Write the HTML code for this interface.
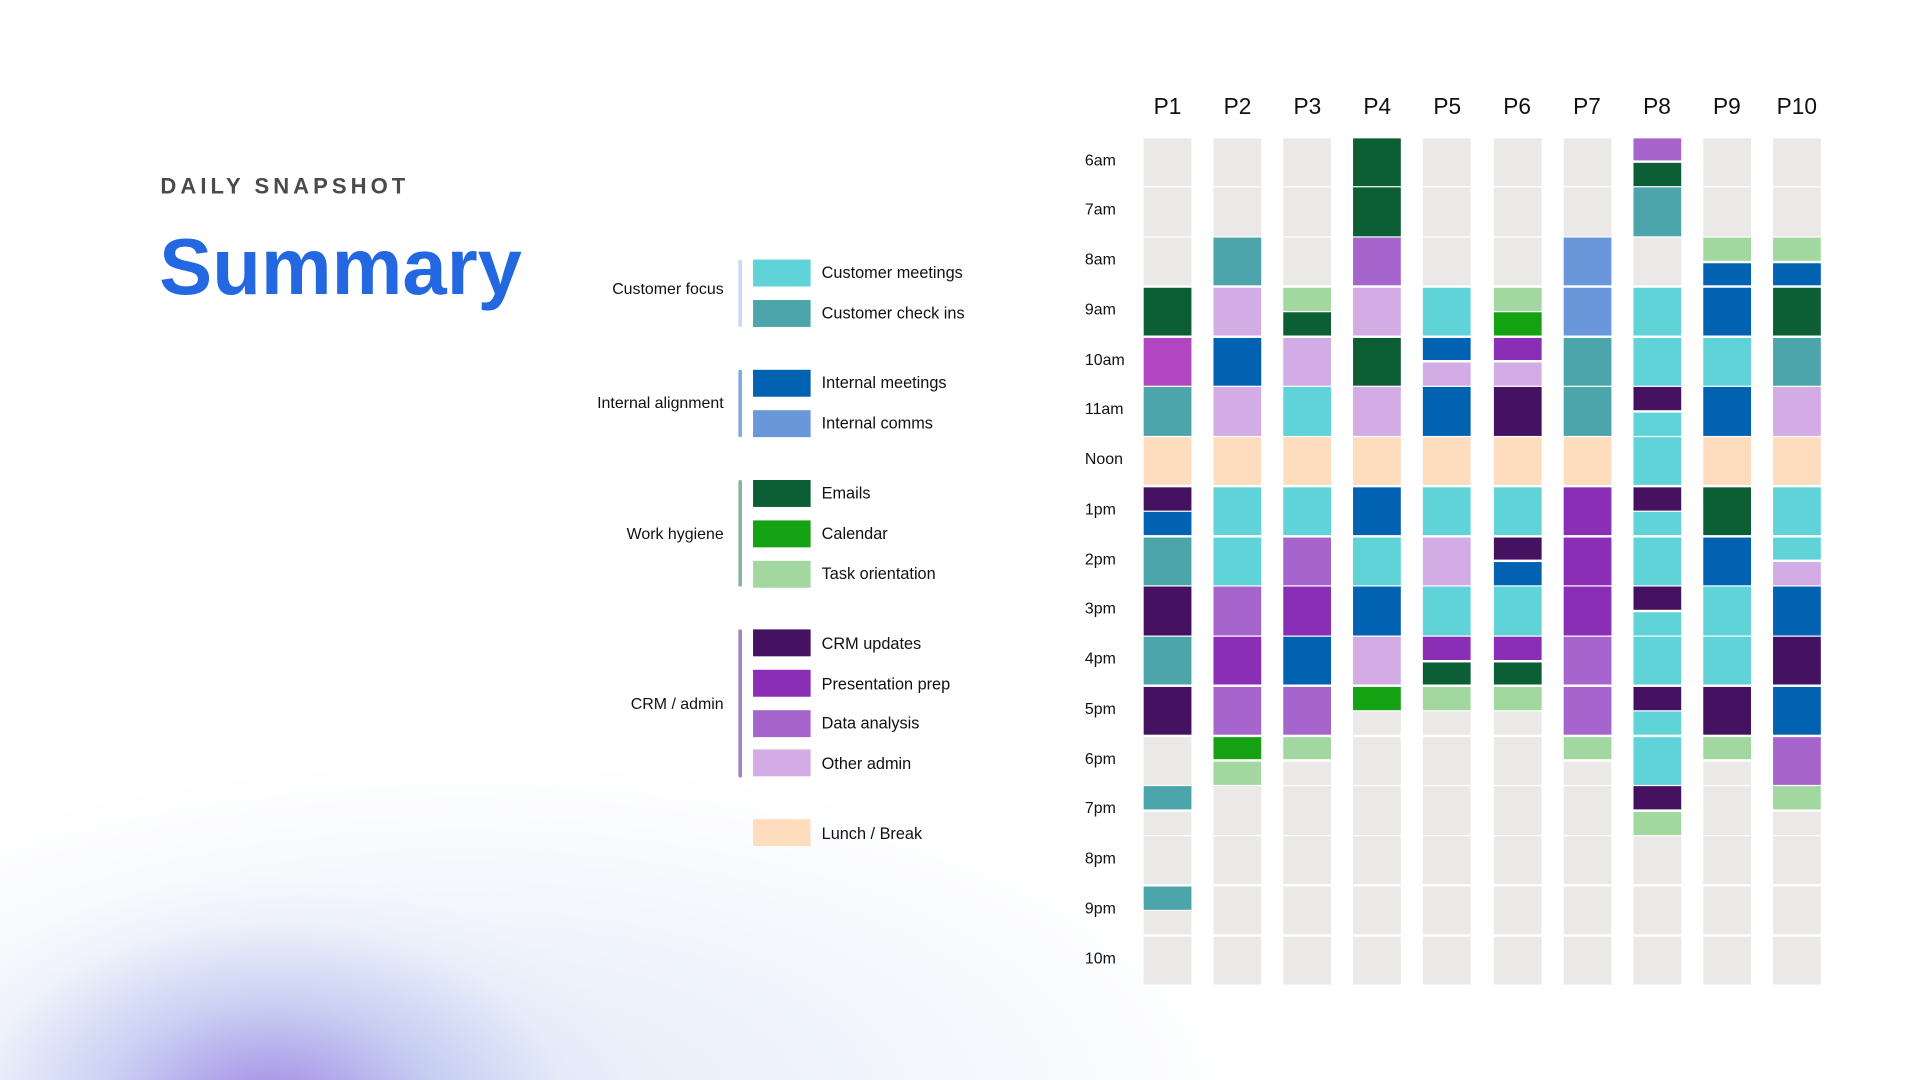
<!DOCTYPE html>
<html><head><meta charset="utf-8"><style>
html,body{margin:0;padding:0;width:1920px;height:1080px;overflow:hidden;background:#fff;}
#stage{position:absolute;left:0;top:0;width:1568px;height:882px;transform:scale(1.22449);transform-origin:0 0;font-family:"Liberation Sans",sans-serif;color:#111;overflow:hidden;
background:radial-gradient(ellipse 300px 190px at 220px 905px,rgba(145,110,225,.8),rgba(165,175,235,.5) 45%,rgba(215,222,245,.2) 80%,rgba(255,255,255,0) 100%),radial-gradient(ellipse 650px 280px at 380px 900px,rgba(212,222,245,.65),rgba(255,255,255,0) 100%),#fff;}
.abs{position:absolute;}
.glabel{position:absolute;right:977px;font-size:13px;text-align:right;white-space:nowrap;}
.gbar{position:absolute;left:603px;width:3px;border-radius:2px;}
.sw{position:absolute;left:615px;width:47px;height:22px;}
.lt{position:absolute;left:671px;font-size:13.3px;white-space:nowrap;}
.hl{position:absolute;left:886px;font-size:13px;}
.ph{position:absolute;top:76px;width:39px;text-align:center;font-size:18.5px;}
.cell{position:absolute;}
</style></head><body>
<div id="stage">
<div class="abs" style="left:131px;top:142px;font-size:18px;font-weight:bold;letter-spacing:3.3px;color:#4a4a4a;">DAILY SNAPSHOT</div>
<div class="abs" style="left:130px;top:180px;font-size:65px;font-weight:bold;color:#2368E1;">Summary</div>

<div class="glabel" style="top:228px;">Customer focus</div>
<div class="gbar" style="top:212px;height:55px;background:#c9d9f5;"></div>
<div class="sw" style="top:212px;background:#5FD3D8;"></div>
<div class="lt" style="top:215px;">Customer meetings</div>
<div class="sw" style="top:245px;background:#4BA5AA;"></div>
<div class="lt" style="top:248px;">Customer check ins</div>

<div class="glabel" style="top:321px;">Internal alignment</div>
<div class="gbar" style="top:302px;height:55px;background:#82a9e2;"></div>
<div class="sw" style="top:302px;background:#0062B1;"></div>
<div class="lt" style="top:305px;">Internal meetings</div>
<div class="sw" style="top:335px;background:#6A97D9;"></div>
<div class="lt" style="top:338px;">Internal comms</div>

<div class="glabel" style="top:428px;">Work hygiene</div>
<div class="gbar" style="top:392px;height:87px;background:#88b49c;"></div>
<div class="sw" style="top:392px;background:#0C5E35;"></div>
<div class="lt" style="top:395px;">Emails</div>
<div class="sw" style="top:425px;background:#14A112;"></div>
<div class="lt" style="top:428px;">Calendar</div>
<div class="sw" style="top:458px;background:#A2D8A0;"></div>
<div class="lt" style="top:461px;">Task orientation</div>

<div class="glabel" style="top:567px;">CRM / admin</div>
<div class="gbar" style="top:514px;height:121px;background:#a283ba;"></div>
<div class="sw" style="top:514px;background:#451161;"></div>
<div class="lt" style="top:518px;">CRM updates</div>
<div class="sw" style="top:547px;background:#8A2EB5;"></div>
<div class="lt" style="top:551px;">Presentation prep</div>
<div class="sw" style="top:580px;background:#A665CC;"></div>
<div class="lt" style="top:583px;">Data analysis</div>
<div class="sw" style="top:612px;background:#D3ACE5;"></div>
<div class="lt" style="top:616px;">Other admin</div>

<div class="sw" style="top:669px;background:#FDDDBE;"></div>
<div class="lt" style="top:673px;">Lunch / Break</div>

<div id="grid"></div>
</div>
<script>
const participants = ["P1","P2","P3","P4","P5","P6","P7","P8","P9","P10"];
const hourLabels = ["6am","7am","8am","9am","10am","11am","Noon","1pm","2pm","3pm","4pm","5pm","6pm","7pm","8pm","9pm","10m"];
const categoryColors = {E:"#EAE9E8",CM:"#5FD3D8",CC:"#4BA5AA",IM:"#0062B1",IC:"#6A97D9",EM:"#0C5E35",CA:"#14A112",TO:"#A2D8A0",CRM:"#451161",PP:"#8A2EB5",PX:"#B046C0",DA:"#A665CC",OA:"#D3ACE5",L:"#FDDDBE"};
const p1 = ["E","E","E","EM","PX","CC","L",["CRM","IM"],"CC","CRM","CC","CRM","E",["CC","E"],"E",["CC","E"],"E"];
const p2 = ["E","E","CC","OA","IM","OA","L","CM","CM","DA","PP","DA",["CA","TO"],"E","E","E","E"];
const p3 = ["E","E","E",["TO","EM"],"OA","CM","L","CM","DA","PP","IM","DA",["TO","E"],"E","E","E","E"];
const p4 = ["EM","EM","DA","OA","EM","OA","L","IM","CM","IM","OA",["CA","E"],"E","E","E","E","E"];
const p5 = ["E","E","E","CM",["IM","OA"],"IM","L","CM","OA","CM",["PP","EM"],["TO","E"],"E","E","E","E","E"];
const p6 = ["E","E","E",["TO","CA"],["PP","OA"],"CRM","L","CM",["CRM","IM"],"CM",["PP","EM"],["TO","E"],"E","E","E","E","E"];
const p7 = ["E","E","IC","IC","CC","CC","L","PP","PP","PP","DA","DA",["TO","E"],"E","E","E","E"];
const p8 = [["DA","EM"],"CC","E","CM","CM",["CRM","CM"],"CM",["CRM","CM"],"CM",["CRM","CM"],"CM",["CRM","CM"],"CM",["CRM","TO"],"E","E","E"];
const p9 = ["E","E",["TO","IM"],"IM","CM","IM","L","EM","IM","CM","CM","CRM",["TO","E"],"E","E","E","E"];
const p10 = ["E","E",["TO","IM"],"EM","CC","OA","L","CM",["CM","OA"],"IM","CRM","IM","DA",["TO","E"],"E","E","E"];
const schedules = [p1,p2,p3,p4,p5,p6,p7,p8,p9,p10];

const X0=934, COLW=39, COLSTEP=57.1, Y0=112.7, ROWSTEP=40.75, GAP=1.6;
const xCol = i => X0 + i*COLSTEP;
const yRow = h => Y0 + h*ROWSTEP;
const grid = document.getElementById('grid');

participants.forEach((p,i)=>{
  const d=document.createElement('div');
  d.className='ph';
  d.style.left=xCol(i)+'px';
  d.textContent=p;
  
  
  grid.appendChild(d);
});
hourLabels.forEach((h,j)=>{
  const d=document.createElement('div');
  d.className='hl';
  d.style.top=(yRow(j)+10)+'px';
  d.textContent=h;
  
  
  grid.appendChild(d);
});
schedules.forEach((s,i)=>{
  s.forEach((v,j)=>{
    const parts = Array.isArray(v)?v:[v];
    const full = ROWSTEP-GAP;
    const h = parts.length===1?full:(full-GAP)/2;
    parts.forEach((c,k)=>{
      const d=document.createElement('div');
      d.className='cell';
      d.style.left=xCol(i)+'px';
      d.style.width=COLW+'px';
      d.style.top=(yRow(j)+k*(h+GAP))+'px';
      d.style.height=h+'px';
      d.style.background=categoryColors[c];
      
      
      grid.appendChild(d);
    });
  });
});
</script>
</body></html>
